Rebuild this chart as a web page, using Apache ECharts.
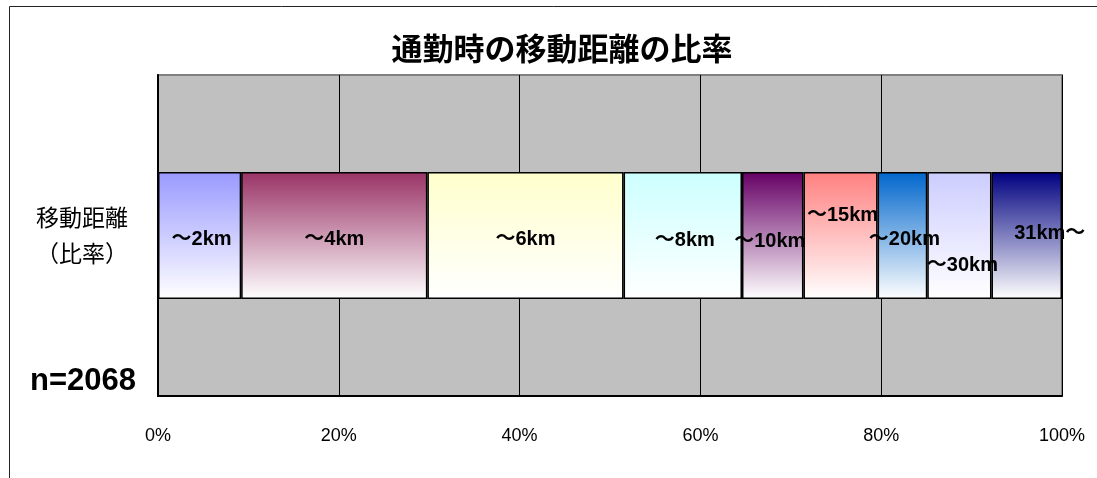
<!DOCTYPE html>
<html>
<head>
<meta charset="utf-8">
<script src="https://cdn.jsdelivr.net/npm/echarts@6/dist/echarts.min.js"></script>
<style>
html,body{margin:0;padding:0;background:#fff;}
#chart{width:1097px;height:478px;}
</style>
</head>
<body>
<div id="chart"></div>
<script>
// ---- data ----
const titleText = '通勤時の移動距離の比率';
const categoryLabels = ['移動距離\n（比率）'];
const sampleNote = 'n=2068';
const segmentNames = ['～2km', '～4km', '～6km', '～8km', '～10km', '～15km', '～20km', '～30km', '31km～'];
const segmentShares = [9.2, 20.6, 21.7, 13.1, 6.8, 8.2, 5.5, 7.1, 7.8];
const tickValues = [0, 20, 40, 60, 80, 100];

// ---- styles ----
const topColors = ['#9999FF', '#993366', '#FFFFCC', '#CCFFFF', '#660066', '#FF8080', '#0066CC', '#CCCCFF', '#000080'];
const labelOffsets = [[2, 4], [0, 4], [0, 4], [2, 5], [-3, 6], [2, -20], [2, 4], [3, 30], [23, -2]];

const latin = "'Liberation Sans', 'Noto Sans CJK JP', sans-serif";
const cjk = "'Noto Sans CJK JP', sans-serif";

const series = segmentNames.map((name, i) => ({
  name: name,
  type: 'bar',
  stack: 'total',
  barWidth: 127,
  data: [segmentShares[i]],
  itemStyle: {
    color: {
      type: 'linear', x: 0, y: 0, x2: 0, y2: 1,
      colorStops: [
        { offset: 0, color: topColors[i] },
        { offset: 1, color: '#FFFFFF' }
      ]
    },
    borderColor: '#000',
    borderWidth: 1.5
  },
  label: {
    show: true,
    position: 'inside',
    formatter: name,
    color: '#000',
    fontSize: 20,
    fontWeight: 'bold',
    fontFamily: latin,
    offset: labelOffsets[i]
  },
  z: 3
}));

const chart = echarts.init(document.getElementById('chart'), null, { renderer: 'canvas' });
chart.setOption({
  animation: false,
  backgroundColor: '#fff',
  grid: {
    left: 158, right: 35, top: 75, bottom: 82,
    show: true,
    backgroundColor: '#C0C0C0',
    borderColor: '#808080',
    borderWidth: 2
  },
  xAxis: {
    type: 'value',
    min: tickValues[0],
    max: tickValues[tickValues.length - 1],
    interval: tickValues[1] - tickValues[0],
    axisLine: { show: true, onZero: false, lineStyle: { color: '#000', width: 2 } },
    axisTick: { show: false },
    splitLine: { show: true, lineStyle: { color: '#000', width: 1 } },
    axisLabel: {
      formatter: '{value}%',
      color: '#000',
      fontSize: 18,
      fontFamily: "'Liberation Sans Narrow', 'Liberation Sans', sans-serif",
      margin: 31
    }
  },
  yAxis: {
    type: 'category',
    data: categoryLabels,
    axisLine: { show: true, lineStyle: { color: '#000', width: 2 } },
    axisTick: { show: false },
    splitLine: { show: false },
    axisLabel: {
      color: '#000',
      fontSize: 23,
      lineHeight: 36,
      fontFamily: cjk,
      align: 'center',
      margin: 76
    }
  },
  series: series,
  graphic: [
    {
      type: 'rect',
      shape: { x: 9.5, y: 6.5, width: 1200, height: 600 },
      style: { fill: 'none', stroke: '#222', lineWidth: 1 },
      silent: true,
      z: -10
    },
    {
      type: 'text',
      x: 562, y: 48,
      style: {
        text: titleText,
        fontSize: 31,
        fontWeight: 'bold',
        fontFamily: cjk,
        fill: '#000',
        textAlign: 'center',
        textVerticalAlign: 'middle'
      }
    },
    {
      type: 'text',
      x: 30, y: 381,
      style: {
        text: sampleNote,
        fontSize: 31,
        fontWeight: 'bold',
        fontFamily: latin,
        fill: '#000',
        textAlign: 'left',
        textVerticalAlign: 'middle'
      }
    }
  ]
});
</script>
</body>
</html>
